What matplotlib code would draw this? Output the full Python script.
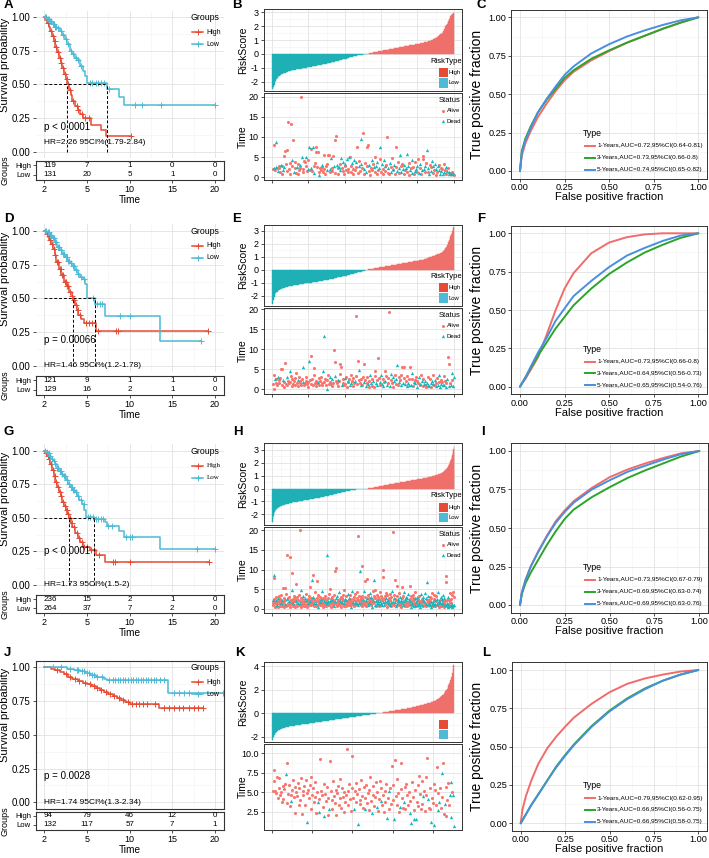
import numpy as np
import matplotlib
matplotlib.use("Agg")
import matplotlib.pyplot as plt
from matplotlib.lines import Line2D
from matplotlib.patches import Rectangle
from matplotlib.ticker import MultipleLocator, FixedLocator

plt.rcParams["font.family"] = ["Liberation Sans", "DejaVu Sans"]
plt.rcParams["axes.unicode_minus"] = False

W, H = 709, 858

C_HIGH = "#E64B35"
C_LOW = "#4DBBD5"
BAR_HIGH = "#EF6F6A"
BAR_LOW = "#1FB0B5"
PT_ALIVE = "#F8766D"
PT_DEAD = "#14B8BE"
ROC_COLS = ["#F26B6B", "#2AA52A", "#4A8FDE"]
GRID_MAJ = "#E2E2E2"
GRID_MIN = "#F1F1F1"

# ---------------- survival curves (step times / survival after step / censor times) ----------
KM_TICKS = [0, 5, 10, 15, 20]
KM_TICKLABELS = ["2", "5", "10", "15", "20"]

a_high_t = [0.1, 0.3, 0.5, 0.7, 0.9, 1.1, 1.3, 1.5, 1.7, 1.9, 2.1, 2.3, 2.5, 2.7, 2.9, 3.1, 3.3, 3.6, 3.9, 4.2, 4.5, 5.5, 6.7, 7.2]
a_high_s = [0.98, 0.96, 0.93, 0.90, 0.86, 0.82, 0.78, 0.74, 0.70, 0.66, 0.62, 0.58, 0.54, 0.50, 0.46, 0.42, 0.38, 0.34, 0.31, 0.28, 0.25, 0.20, 0.16, 0.12]
a_high_c = [0.4, 0.8, 1.0, 1.2, 1.4, 1.6, 1.8, 2.0, 2.2, 2.4, 2.6, 2.8, 3.0, 3.4, 3.8, 4.0, 4.4, 4.8, 5.2, 10.2]
a_low_t = [0.3, 0.6, 0.9, 1.2, 1.5, 1.8, 2.1, 2.4, 2.7, 3.0, 3.3, 3.6, 3.9, 4.2, 4.5, 4.8, 5.0, 7.3, 8.7, 9.3]
a_low_s = [0.99, 0.97, 0.95, 0.93, 0.92, 0.90, 0.87, 0.84, 0.80, 0.75, 0.73, 0.70, 0.68, 0.64, 0.60, 0.56, 0.51, 0.47, 0.41, 0.35]
a_low_c = [0.1, 0.2, 0.4, 0.5, 0.7, 0.8, 1.0, 1.1, 1.3, 1.4, 1.6, 1.9, 2.0, 2.2, 2.5, 2.8, 3.1, 3.4, 3.7, 4.0,
           4.3, 5.3, 5.6, 6.0, 6.3, 6.7, 7.0, 7.6, 10.6, 11.5, 13.7, 20.0]
a_n_high = [119, 7, 1, 0, 0]
a_n_low = [131, 20, 5, 1, 0]

d_high_t = [0.2, 0.4, 0.6, 0.8, 1.0, 1.2, 1.4, 1.7, 2.0, 2.3, 2.6, 2.9, 3.2, 3.4, 3.6, 3.8, 4.0, 4.3, 4.6, 6.1]
d_high_s = [0.98, 0.96, 0.93, 0.90, 0.87, 0.82, 0.77, 0.72, 0.67, 0.62, 0.59, 0.55, 0.52, 0.49, 0.45, 0.41, 0.38, 0.35, 0.32, 0.26]
d_high_c = [0.3, 0.5, 0.7, 0.9, 1.1, 1.3, 1.5, 1.6, 1.8, 1.9, 2.1, 2.2, 2.4, 2.5, 2.7, 2.8, 3.0, 3.3, 3.5, 3.7,
            3.9, 4.2, 4.9, 5.2, 5.6, 6.3, 8.4, 8.6, 19.2]
d_low_t = [0.3, 0.6, 0.9, 1.2, 1.5, 1.8, 2.1, 2.4, 2.7, 3.0, 3.3, 3.6, 3.9, 4.2, 4.5, 4.8, 5.0, 5.9, 7.1, 13.5]
d_low_s = [0.99, 0.97, 0.95, 0.92, 0.88, 0.86, 0.83, 0.81, 0.78, 0.76, 0.74, 0.71, 0.68, 0.66, 0.64, 0.61, 0.505, 0.46, 0.37, 0.18]
d_low_c = [0.1, 0.2, 0.4, 0.5, 0.7, 0.8, 1.0, 1.1, 1.3, 1.4, 1.6, 1.7, 1.9, 2.0, 2.2, 2.3, 2.5, 2.6, 2.8, 2.9,
           3.1, 3.4, 3.5, 3.7, 4.0, 4.3, 4.6, 5.7, 6.2, 6.5, 6.8, 8.9, 10.0, 18.4]
d_n_high = [121, 9, 1, 1, 0]
d_n_low = [129, 16, 2, 1, 0]

g_high_t = [0.1, 0.3, 0.5, 0.7, 0.9, 1.1, 1.3, 1.5, 1.7, 1.9, 2.1, 2.3, 2.5, 2.7, 2.9, 3.1, 3.3, 3.6, 3.9, 4.2, 4.5, 5.35, 6.1, 7.1]
g_high_s = [0.98, 0.96, 0.94, 0.90, 0.86, 0.81, 0.77, 0.73, 0.69, 0.66, 0.62, 0.59, 0.56, 0.53, 0.50, 0.46, 0.43, 0.39, 0.35, 0.32, 0.28, 0.26, 0.22, 0.17]
g_high_c = [0.2, 0.4, 0.6, 0.8, 1.0, 1.2, 1.4, 1.6, 1.8, 2.0, 2.2, 2.4, 2.6, 2.8, 3.0, 3.2, 3.5, 3.8, 4.1, 4.4,
            4.7, 5.0, 5.5, 5.8, 6.4, 8.0, 8.3, 10.0, 19.3]
g_low_t = [0.2, 0.4, 0.6, 0.8, 1.0, 1.2, 1.45, 1.7, 2.0, 2.2, 2.5, 2.8, 3.0, 3.3, 3.6, 3.8, 4.1, 4.4, 4.7, 4.9,
           5.86, 7.1, 7.3, 8.7, 9.3, 13.5]
g_low_s = [0.99, 0.98, 0.96, 0.94, 0.92, 0.90, 0.87, 0.85, 0.83, 0.81, 0.78, 0.75, 0.73, 0.71, 0.69, 0.66, 0.63, 0.60, 0.56, 0.51,
           0.495, 0.47, 0.44, 0.40, 0.36, 0.27]
g_low_c = [0.1, 0.3, 0.5, 0.7, 0.9, 1.1, 1.3, 1.5, 1.6, 1.8, 1.9, 2.1, 2.3, 2.4, 2.6, 2.7, 2.9, 3.1, 3.2, 3.4,
           3.5, 3.7, 3.9, 4.0, 4.3, 4.6, 5.1, 5.4, 5.7, 6.0, 6.3, 6.6, 6.9, 7.5, 7.9, 9.6, 10.0, 10.3, 17.9, 20.0]
g_n_high = [236, 15, 2, 1, 0]
g_n_low = [264, 37, 7, 2, 0]

j_high_t = [0.8, 1.3, 1.8, 2.3, 2.8, 3.3, 3.9, 4.5, 5.0, 5.5, 6.0, 6.5, 7.0, 7.5, 8.0, 8.5, 9.0, 9.5, 10.0, 13.4]
j_high_s = [0.99, 0.98, 0.965, 0.95, 0.93, 0.91, 0.90, 0.885, 0.875, 0.865, 0.85, 0.835, 0.815, 0.80, 0.785, 0.77, 0.755, 0.745, 0.73, 0.70]
j_high_c = [1.5, 2.5, 3.0, 3.6, 4.1, 4.8, 5.3, 5.8, 6.2, 6.7, 7.2, 7.7, 8.2, 8.7, 9.2, 9.8, 10.3, 10.7, 11.1, 11.6,
            12.0, 13.0, 14.0, 14.6, 15.2, 15.8, 16.3, 16.9, 17.5, 18.0, 18.6]
j_low_t = [2.6, 3.5, 4.2, 4.8, 5.4, 6.0, 6.5, 7.0, 7.3, 14.5]
j_low_s = [0.99, 0.98, 0.97, 0.955, 0.94, 0.93, 0.925, 0.915, 0.905, 0.81]
j_low_c = [1.0, 2.0, 3.0, 3.8, 4.0, 4.4, 4.6, 5.0, 5.2, 5.6, 5.8, 6.2, 6.8, 7.6, 8.0, 8.3, 8.6, 8.9, 9.2, 9.5,
           9.8, 10.1, 10.4, 10.7, 11.0, 11.3, 11.6, 11.9, 12.2, 12.5, 12.8, 13.1, 13.5, 14.0, 15.2, 15.8, 16.4, 17.0, 20.9]
j_n_high = [94, 79, 46, 12, 0]
j_n_low = [132, 117, 57, 7, 1]

# ---------------- risk score / survival time per patient ----------------
b_score_low = [
    -2.50, -2.38, -2.21, -2.05, -1.92, -1.83, -1.75, -1.68, -1.62, -1.57,
    -1.53, -1.49, -1.46, -1.43, -1.40, -1.38, -1.36, -1.34, -1.32, -1.30,
    -1.28, -1.26, -1.25, -1.23, -1.22, -1.20, -1.19, -1.18, -1.16, -1.15,
    -1.14, -1.13, -1.12, -1.11, -1.10, -1.09, -1.08, -1.07, -1.06, -1.05,
    -1.04, -1.03, -1.02, -1.01, -1.00, -0.99, -0.98, -0.97, -0.96, -0.95,
    -0.94, -0.93, -0.92, -0.91, -0.90, -0.89, -0.88, -0.87, -0.86, -0.85,
    -0.84, -0.83, -0.82, -0.81, -0.80, -0.79, -0.78, -0.77, -0.76, -0.75,
    -0.74, -0.73, -0.72, -0.71, -0.70, -0.68, -0.67, -0.66, -0.65, -0.64,
    -0.62, -0.61, -0.60, -0.58, -0.57, -0.56, -0.54, -0.53, -0.52, -0.50,
    -0.49, -0.47, -0.46, -0.45, -0.43, -0.42, -0.40, -0.39, -0.37, -0.36,
    -0.34, -0.33, -0.31, -0.30, -0.28, -0.27, -0.25, -0.24, -0.22, -0.21,
    -0.19, -0.18, -0.16, -0.15, -0.13, -0.12, -0.11, -0.10, -0.09, -0.08,
    -0.07, -0.07, -0.06, -0.05, -0.05, -0.04, -0.03, -0.03, -0.02, -0.01, -0.01]
b_score_high = [
    0.01, 0.02, 0.04, 0.05, 0.06, 0.08, 0.09, 0.10, 0.11, 0.13,
    0.14, 0.15, 0.16, 0.17, 0.18, 0.19, 0.20, 0.21, 0.22, 0.23,
    0.24, 0.25, 0.26, 0.27, 0.28, 0.29, 0.30, 0.31, 0.32, 0.33,
    0.34, 0.35, 0.36, 0.37, 0.38, 0.39, 0.40, 0.41, 0.42, 0.43,
    0.44, 0.45, 0.46, 0.47, 0.48, 0.49, 0.50, 0.51, 0.52, 0.53,
    0.54, 0.55, 0.56, 0.57, 0.58, 0.59, 0.60, 0.61, 0.62, 0.63,
    0.64, 0.65, 0.66, 0.67, 0.68, 0.69, 0.70, 0.71, 0.72, 0.73,
    0.74, 0.75, 0.76, 0.77, 0.78, 0.79, 0.80, 0.82, 0.83, 0.84,
    0.86, 0.87, 0.89, 0.90, 0.92, 0.94, 0.96, 0.98, 1.00, 1.03,
    1.06, 1.09, 1.12, 1.15, 1.18, 1.21, 1.25, 1.29, 1.33, 1.37,
    1.42, 1.47, 1.53, 1.60, 1.68, 1.77, 1.88, 1.98, 2.08, 2.18,
    2.28, 2.40, 2.52, 2.61, 2.70, 2.78, 2.85, 2.91, 2.95]
b_time = [
    2.1, 7.9, 2.4, 1.8, 2.6, 8.8, 2.2, 1.5, 2.9, 2.3,
    1.2, 3.1, 2.8, 0.7, 1.9, 5.3, 2.5, 6.6, 3.4, 6.8,
    1.6, 13.8, 2.0, 0.9, 3.6, 13.2, 4.4, 2.7, 9.2, 1.4,
    2.2, 3.9, 1.1, 2.6, 3.3, 0.8, 1.7, 3.0, 2.4, 20.0,
    5.0, 2.1, 1.3, 4.1, 3.7, 2.9, 5.1, 1.6, 4.2, 2.0,
    7.4, 1.9, 2.3, 6.9, 1.5, 7.6, 2.8, 1.0, 3.5, 6.2,
    7.4, 2.5, 6.4, 1.2, 0.6, 2.2, 1.8, 3.1, 2.6, 1.4,
    5.5, 2.0, 0.9, 2.7, 1.7, 3.2, 5.6, 5.5, 2.1, 1.3,
    4.8, 2.4, 1.6, 5.3, 2.9, 9.3, 1.1, 10.3, 3.0, 2.2,
    0.8, 2.6, 3.4, 1.9, 4.9, 2.3, 1.5, 3.8, 0.9, 2.7,
    3.3, 1.7, 4.5, 2.0, 1.2, 5.0, 5.1, 2.8, 1.4, 3.6,
    2.1, 0.7, 4.3, 1.8, 3.9, 2.5, 7.6, 1.0, 2.9, 4.0,
    1.6, 3.2, 9.4, 2.4, 10.9, 0.9, 2.0, 3.5, 1.3, 7.4,
    2.7, 8.0, 1.5, 3.0, 0.6, 2.2, 4.3, 1.8, 3.4, 2.6,
    1.2, 5.1, 2.9, 0.8, 3.7, 1.9, 2.4, 4.6, 7.4, 1.4,
    3.3, 2.0, 0.9, 4.4, 1.6, 2.8, 3.1, 10.1, 1.1, 2.3,
    0.7, 3.6, 2.5, 1.3, 4.8, 2.1, 1.8, 3.0, 0.9, 2.6,
    7.4, 1.5, 3.9, 2.2, 1.0, 5.6, 2.7, 1.4, 3.3, 2.0,
    0.8, 3.1, 1.7, 2.4, 5.8, 1.2, 2.9, 0.6, 3.5, 1.9,
    2.3, 1.0, 4.2, 2.6, 0.7, 1.5, 3.7, 2.1, 1.3, 2.8,
    4.5, 1.1, 2.4, 3.2, 0.9, 1.8, 4.6, 5.4, 2.0, 1.4,
    2.7, 3.6, 6.8, 1.2, 2.2, 0.8, 3.0, 1.6, 2.5, 4.0,
    1.0, 2.9, 1.7, 3.4, 0.6, 2.1, 1.3, 2.8, 1.9, 3.1,
    0.9, 2.4, 1.5, 2.0, 0.7, 3.3, 1.2, 1.8, 2.6, 0.8,
    1.6, 2.2, 0.9, 1.4, 1.1, 0.7, 1.3, 0.8, 1.0, 0.6]
b_status = (
    "AADADDADAA" "ADAADADAAA" "AAAAAADAAD" "AAADAAADAA" "DAAAAADAAD"
    "DADAADADAA" "AAAADAADAA" "AAAADAAADA" "DAAADAAADA" "ADADDAADAA"
    "DADAADAAAD" "AADADAAADA" "ADDAAADADA" "AAADAADAAD" "AADADADADA"
    "DAADADAAAD" "ADADADADAA" "ADADADADAD" "ADADDADAAD" "ADDAADADAD"
    "ADADADAADA" "DADADDADAD" "ADADADADDA" "DADADADADA" "DADDADADDA")

e_score_low = [
    -2.62, -2.30, -2.05, -1.90, -1.80, -1.72, -1.66, -1.61, -1.57, -1.53,
    -1.50, -1.47, -1.44, -1.42, -1.40, -1.38, -1.36, -1.34, -1.33, -1.31,
    -1.30, -1.28, -1.27, -1.25, -1.24, -1.23, -1.21, -1.20, -1.19, -1.18,
    -1.17, -1.16, -1.15, -1.14, -1.13, -1.12, -1.11, -1.10, -1.09, -1.08,
    -1.07, -1.06, -1.06, -1.05, -1.04, -1.03, -1.02, -1.02, -1.01, -1.00,
    -0.99, -0.99, -0.98, -0.97, -0.97, -0.96, -0.95, -0.94, -0.93, -0.92,
    -0.91, -0.90, -0.89, -0.88, -0.87, -0.86, -0.85, -0.84, -0.83, -0.82,
    -0.81, -0.80, -0.79, -0.78, -0.77, -0.76, -0.75, -0.74, -0.73, -0.72,
    -0.70, -0.69, -0.67, -0.66, -0.64, -0.63, -0.61, -0.60, -0.58, -0.57,
    -0.55, -0.54, -0.53, -0.52, -0.51, -0.50, -0.49, -0.48, -0.47, -0.46,
    -0.45, -0.43, -0.42, -0.40, -0.39, -0.37, -0.36, -0.34, -0.33, -0.31,
    -0.30, -0.28, -0.27, -0.25, -0.24, -0.22, -0.21, -0.19, -0.18, -0.16,
    -0.15, -0.13, -0.12, -0.10, -0.09, -0.07, -0.05, -0.03, -0.01]
e_score_high = [
    0.01, 0.02, 0.03, 0.04, 0.05, 0.06, 0.07, 0.08, 0.09, 0.10,
    0.11, 0.12, 0.13, 0.14, 0.15, 0.16, 0.17, 0.18, 0.19, 0.20,
    0.21, 0.22, 0.23, 0.24, 0.25, 0.26, 0.27, 0.28, 0.29, 0.30,
    0.31, 0.32, 0.33, 0.34, 0.35, 0.36, 0.37, 0.38, 0.39, 0.40,
    0.41, 0.42, 0.43, 0.44, 0.45, 0.46, 0.47, 0.48, 0.49, 0.50,
    0.51, 0.52, 0.53, 0.54, 0.55, 0.56, 0.57, 0.58, 0.59, 0.60,
    0.61, 0.62, 0.63, 0.64, 0.65, 0.66, 0.67, 0.68, 0.69, 0.70,
    0.71, 0.72, 0.73, 0.74, 0.75, 0.76, 0.77, 0.79, 0.80, 0.82,
    0.83, 0.85, 0.87, 0.89, 0.91, 0.93, 0.95, 0.97, 0.99, 1.01,
    1.03, 1.05, 1.07, 1.09, 1.11, 1.13, 1.15, 1.17, 1.19, 1.21,
    1.23, 1.26, 1.29, 1.33, 1.37, 1.42, 1.48, 1.55, 1.62, 1.70,
    1.79, 1.90, 2.02, 2.15, 2.30, 2.46, 2.62, 2.80, 2.98, 3.15, 3.30]
e_time = [
    1.2, 3.5, 0.1, 2.6, 1.4, 2.4, 1.0, 3.0, 2.2, 1.6,
    2.8, 5.0, 5.0, 1.1, 2.3, 0.6, 1.8, 6.6, 1.3, 2.9,
    0.9, 2.0, 1.5, 4.6, 1.7, 3.2, 0.8, 2.5, 1.2, 1.9,
    2.7, 1.0, 4.1, 1.6, 2.2, 0.7, 3.1, 1.4, 2.0, 1.1,
    2.4, 1.8, 5.6, 0.9, 1.5, 2.9, 2.1, 1.2, 0.6, 1.7,
    7.0, 2.3, 8.3, 1.3, 2.6, 1.0, 3.4, 5.2, 1.6, 0.8,
    2.0, 1.4, 1.8, 2.7, 0.9, 1.9, 3.0, 1.1, 1.5, 4.4,
    1.7, 13.4, 2.4, 1.0, 0.1, 2.2, 3.6, 1.3, 1.8, 2.9,
    1.2, 2.5, 0.8, 1.6, 9.8, 3.3, 6.9, 2.0, 1.4, 0.7,
    2.3, 1.9, 3.7, 6.3, 5.6, 1.1, 2.6, 1.5, 0.9, 2.8,
    1.3, 3.1, 0.6, 2.1, 1.7, 2.4, 1.0, 3.5, 1.6, 2.0,
    0.8, 2.7, 1.4, 1.9, 3.2, 18.4, 1.2, 7.1, 4.8, 2.2,
    1.5, 0.9, 2.5, 1.1, 3.0, 1.8, 6.2, 2.3, 0.7, 1.6,
    2.9, 1.2, 0.5, 2.1, 3.6, 1.4, 0.8, 2.6, 1.9, 0.6,
    3.3, 4.5, 1.5, 2.2, 1.0, 7.9, 2.8, 1.7, 0.9, 3.5,
    1.3, 2.4, 0.7, 1.8, 4.5, 2.0, 3.2, 1.1, 1.6, 2.7,
    19.2, 0.8, 2.3, 3.8, 1.4, 2.9, 0.6, 1.9, 3.4, 1.2,
    2.5, 6.0, 1.0, 3.0, 1.7, 2.2, 0.9, 3.6, 5.6, 1.5,
    2.8, 5.4, 1.3, 2.0, 0.7, 3.3, 1.6, 2.4, 0.9, 5.6,
    1.1, 2.6, 3.9, 0.8, 1.8, 2.2, 1.4, 3.1, 0.6, 2.0,
    1.5, 2.9, 0.9, 1.2, 3.5, 1.9, 0.7, 2.4, 1.3, 1.0,
    2.1, 0.5, 1.6, 3.0, 1.1, 0.8, 2.6, 1.4, 0.6, 1.9,
    3.4, 1.2, 0.9, 2.2, 1.5, 0.7, 2.8, 1.0, 3.5, 1.7,
    0.6, 2.3, 1.3, 1.8, 0.9, 3.2, 1.1, 2.0, 0.5, 1.4,
    2.5, 8.1, 6.4, 0.8, 1.6, 1.0, 2.2, 3.9, 0.7, 3.0]
e_status = (
    "AAADAAADAA" "AAAADAAAAD" "AAADAAAAAA" "AAAADAAAAA" "ADDAAAAAAA"
    "DAAAAAAAAA" "AADAAAAAAD" "ADAADAAAAD" "ADAAADAAAA" "DAAAADAAAD"
    "AAADAADADA" "AAADAAAADA" "ADAAADAADA" "ADAADDAADA" "AADADAADAD"
    "DADAADADAA" "ADADADADAA" "DDAADADAAD" "AADADADADA" "DADADADADA"
    "ADADADAADA" "DADADDADAD" "ADADADADDA" "DADADADADA" "DAADADADDD")

h_score_low = [
    -2.60, -2.35, -2.15, -2.00, -1.90, -1.82, -1.76, -1.71, -1.67, -1.63,
    -1.60, -1.57, -1.54, -1.52, -1.50, -1.48, -1.46, -1.44, -1.42, -1.41,
    -1.39, -1.38, -1.36, -1.35, -1.34, -1.33, -1.32, -1.31, -1.30, -1.29,
    -1.28, -1.27, -1.26, -1.25, -1.24, -1.23, -1.22, -1.21, -1.20, -1.19,
    -1.18, -1.18, -1.17, -1.16, -1.16, -1.15, -1.14, -1.14, -1.13, -1.12,
    -1.12, -1.11, -1.10, -1.10, -1.09, -1.08, -1.08, -1.07, -1.07, -1.06,
    -1.05, -1.05, -1.04, -1.04, -1.03, -1.03, -1.02, -1.02, -1.01, -1.00,
    -1.00, -0.99, -0.99, -0.98, -0.98, -0.97, -0.97, -0.96, -0.96, -0.95,
    -0.95, -0.94, -0.94, -0.93, -0.93, -0.92, -0.92, -0.91, -0.91, -0.90,
    -0.90, -0.89, -0.89, -0.88, -0.88, -0.87, -0.87, -0.86, -0.86, -0.85,
    -0.85, -0.84, -0.84, -0.83, -0.83, -0.82, -0.82, -0.81, -0.81, -0.80,
    -0.80, -0.79, -0.79, -0.78, -0.78, -0.77, -0.77, -0.76, -0.76, -0.75,
    -0.75, -0.74, -0.74, -0.73, -0.73, -0.72, -0.72, -0.71, -0.71, -0.70,
    -0.70, -0.69, -0.68, -0.68, -0.67, -0.66, -0.66, -0.65, -0.64, -0.64,
    -0.63, -0.62, -0.62, -0.61, -0.60, -0.60, -0.59, -0.58, -0.58, -0.57,
    -0.56, -0.56, -0.55, -0.54, -0.54, -0.53, -0.52, -0.52, -0.51, -0.50,
    -0.50, -0.49, -0.48, -0.48, -0.47, -0.46, -0.46, -0.45, -0.44, -0.44,
    -0.43, -0.42, -0.42, -0.41, -0.40, -0.40, -0.39, -0.38, -0.38, -0.37,
    -0.36, -0.36, -0.35, -0.34, -0.34, -0.33, -0.32, -0.32, -0.31, -0.30,
    -0.30, -0.29, -0.28, -0.28, -0.27, -0.26, -0.26, -0.25, -0.24, -0.24,
    -0.23, -0.22, -0.22, -0.21, -0.20, -0.20, -0.19, -0.18, -0.18, -0.17,
    -0.16, -0.16, -0.15, -0.15, -0.14, -0.14, -0.13, -0.13, -0.12, -0.12,
    -0.11, -0.11, -0.10, -0.10, -0.09, -0.09, -0.08, -0.08, -0.08, -0.07,
    -0.07, -0.07, -0.06, -0.06, -0.06, -0.05, -0.05, -0.05, -0.04, -0.04,
    -0.04, -0.04, -0.03, -0.03, -0.03, -0.03, -0.02, -0.02, -0.02, -0.02,
    -0.02, -0.02, -0.01, -0.01, -0.01, -0.01, -0.01, -0.01, -0.01, -0.01,
    -0.01, -0.01, -0.01, -0.01]
h_score_high = [
    0.01, 0.01, 0.02, 0.02, 0.03, 0.03, 0.04, 0.04, 0.05, 0.05,
    0.06, 0.06, 0.07, 0.08, 0.08, 0.09, 0.09, 0.10, 0.11, 0.11,
    0.12, 0.12, 0.13, 0.14, 0.14, 0.15, 0.15, 0.16, 0.17, 0.17,
    0.18, 0.19, 0.19, 0.20, 0.20, 0.21, 0.22, 0.22, 0.23, 0.23,
    0.24, 0.24, 0.25, 0.25, 0.26, 0.26, 0.27, 0.27, 0.28, 0.28,
    0.29, 0.29, 0.30, 0.30, 0.31, 0.31, 0.32, 0.32, 0.33, 0.33,
    0.34, 0.34, 0.35, 0.35, 0.36, 0.36, 0.37, 0.37, 0.38, 0.38,
    0.39, 0.39, 0.40, 0.40, 0.41, 0.41, 0.42, 0.42, 0.43, 0.43,
    0.44, 0.44, 0.45, 0.45, 0.46, 0.46, 0.47, 0.47, 0.48, 0.48,
    0.49, 0.49, 0.50, 0.50, 0.51, 0.51, 0.52, 0.52, 0.53, 0.53,
    0.54, 0.54, 0.55, 0.55, 0.56, 0.56, 0.57, 0.57, 0.58, 0.58,
    0.59, 0.59, 0.60, 0.60, 0.61, 0.61, 0.62, 0.62, 0.63, 0.63,
    0.64, 0.64, 0.65, 0.65, 0.66, 0.66, 0.67, 0.67, 0.68, 0.68,
    0.69, 0.69, 0.70, 0.70, 0.71, 0.71, 0.72, 0.72, 0.73, 0.73,
    0.74, 0.74, 0.75, 0.75, 0.76, 0.76, 0.77, 0.77, 0.78, 0.79,
    0.79, 0.80, 0.80, 0.81, 0.81, 0.82, 0.83, 0.83, 0.84, 0.84,
    0.85, 0.86, 0.86, 0.87, 0.87, 0.88, 0.89, 0.89, 0.90, 0.91,
    0.91, 0.92, 0.93, 0.93, 0.94, 0.95, 0.96, 0.96, 0.97, 0.98,
    0.99, 1.00, 1.00, 1.01, 1.02, 1.03, 1.04, 1.05, 1.06, 1.07,
    1.08, 1.09, 1.10, 1.11, 1.12, 1.13, 1.14, 1.16, 1.17, 1.18,
    1.20, 1.21, 1.23, 1.24, 1.26, 1.28, 1.30, 1.32, 1.34, 1.36,
    1.38, 1.41, 1.44, 1.47, 1.50, 1.53, 1.57, 1.61, 1.65, 1.70,
    1.75, 1.80, 1.86, 1.92, 1.99, 2.06, 2.14, 2.22, 2.31, 2.41,
    2.52, 2.64, 2.78, 2.93, 3.10, 3.30]
h_time = [
    1.5, 2.2, 1.0, 7.8, 2.6, 8.6, 1.8, 0.6, 2.4, 1.3,
    3.0, 1.7, 0.9, 2.1, 1.4, 2.8, 0.5, 1.9, 3.3, 1.2,
    2.5, 0.8, 1.6, 2.0, 3.6, 1.1, 0.7, 2.3, 1.5, 5.2,
    1.9, 2.7, 0.6, 5.2, 1.3, 2.2, 3.9, 1.0, 0.8, 2.5,
    13.7, 1.6, 2.9, 0.9, 2.0, 1.4, 3.1, 13.1, 1.7, 0.5,
    2.3, 1.2, 4.8, 9.2, 1.8, 2.6, 0.7, 1.5, 3.4, 2.1,
    1.0, 2.8, 0.6, 1.9, 6.3, 2.4, 1.3, 3.0, 0.8, 1.6,
    2.2, 1.1, 3.5, 0.9, 2.0, 20.0, 1.4, 2.7, 0.5, 4.8,
    1.7, 2.5, 1.0, 3.2, 1.5, 0.7, 2.1, 1.3, 2.9, 0.8,
    1.8, 2.4, 3.8, 1.1, 0.6, 2.0, 1.6, 2.6, 1.2, 3.3,
    0.9, 2.2, 1.4, 1.9, 5.5, 2.8, 1.0, 7.3, 1.7, 2.3,
    8.6, 1.2, 3.0, 0.7, 2.5, 1.5, 1.9, 4.2, 2.1, 0.8,
    1.6, 7.2, 2.7, 1.1, 3.6, 0.5, 2.0, 1.4, 2.4, 1.8,
    3.1, 1.0, 2.6, 0.9, 1.7, 2.2, 4.5, 1.3, 0.6, 2.9,
    1.5, 2.0, 0.8, 3.4, 1.2, 2.5, 1.8, 0.7, 2.3, 1.6,
    13.7, 1.1, 2.8, 1.9, 0.9, 3.7, 1.4, 2.1, 5.0, 1.7,
    2.6, 0.6, 1.3, 2.2, 3.0, 1.0, 1.8, 2.4, 0.8, 3.5,
    1.5, 9.7, 2.0, 1.2, 10.3, 2.7, 0.7, 1.6, 3.2, 2.3,
    1.0, 1.9, 4.4, 0.9, 2.5, 1.4, 2.1, 3.1, 1.7, 0.6,
    2.8, 1.3, 1.8, 3.6, 2.2, 0.8, 1.5, 4.8, 1.1, 2.6,
    1.9, 3.3, 0.7, 2.4, 1.6, 2.0, 1.2, 3.9, 0.9, 2.2,
    1.4, 2.9, 1.0, 2.5, 3.6, 1.7, 0.6, 2.1, 1.3, 4.5,
    2.6, 1.1, 1.8, 3.0, 0.8, 2.3, 1.5, 3.8, 1.0, 2.0,
    1.6, 2.7, 4.2, 1.2, 2.4, 0.9, 18.5, 3.4, 1.9, 1.4,
    2.2, 9.5, 1.0, 2.8, 1.7, 10.9, 3.2, 0.7, 2.5, 1.3,
    2.0, 4.6, 1.5, 3.0, 7.1, 1.1, 2.4, 0.8, 1.8, 7.6,
    2.7, 1.4, 3.5, 0.9, 2.1, 1.6, 2.9, 1.2, 4.0, 2.3,
    1.0, 3.1, 1.8, 2.5, 0.6, 4.6, 1.4, 2.2, 3.3, 7.3,
    1.7, 2.8, 1.1, 4.7, 2.0, 0.8, 3.6, 1.5, 2.4, 1.2,
    3.0, 1.9, 0.7, 2.6, 1.3, 4.4, 2.1, 1.0, 3.4, 1.6,
    2.3, 1.1, 2.9, 10.0, 1.7, 8.2, 2.5, 0.9, 3.2, 1.4,
    2.0, 4.1, 1.2, 2.7, 0.6, 1.9, 3.5, 1.5, 2.2, 1.0,
    2.8, 1.6, 3.9, 1.1, 2.4, 0.8, 1.8, 3.1, 4.6, 1.3,
    19.4, 2.1, 1.4, 2.9, 1.0, 3.6, 7.3, 1.7, 2.5, 0.7,
    2.2, 5.8, 1.2, 3.3, 1.9, 0.9, 2.6, 1.5, 4.0, 2.0,
    1.1, 3.0, 1.7, 2.4, 0.6, 5.6, 1.4, 2.8, 1.0, 3.4,
    2.1, 1.3, 4.4, 0.8, 2.6, 1.8, 3.1, 1.2, 2.2, 0.7,
    1.6, 2.9, 1.0, 3.7, 1.4, 2.3, 0.9, 5.8, 1.9, 2.5,
    1.2, 3.2, 0.6, 2.0, 1.6, 2.7, 1.1, 3.5, 0.8, 2.2,
    1.5, 2.8, 1.0, 4.2, 1.8, 0.7, 2.4, 1.3, 3.0, 2.0,
    0.9, 2.5, 1.4, 3.4, 1.1, 2.1, 0.6, 1.7, 3.8, 1.2,
    2.6, 1.0, 1.9, 2.3, 0.8, 3.1, 1.5, 2.0, 1.2, 4.0,
    1.6, 2.7, 0.7, 1.3, 2.2, 6.9, 1.0, 3.3, 1.8, 0.9,
    2.4, 1.4, 3.0, 1.1, 2.0, 0.6, 2.8, 1.7, 4.1, 1.2,
    2.1, 0.8, 1.5, 3.6, 1.0, 2.5, 1.3, 0.7, 2.2, 1.9,
    3.2, 1.2, 0.9, 2.6, 1.6, 4.3, 1.0, 2.1, 0.6, 1.4,
    2.3, 1.8, 0.8, 3.0, 1.1, 2.5, 0.7, 1.5, 2.0, 3.6,
    1.2, 0.6, 2.7, 1.4, 0.9, 1.9, 8.4, 6.9, 1.0, 2.4,
    1.6, 0.8, 3.1, 1.3, 0.5, 2.2, 1.1, 4.0, 0.7, 1.8,
    2.6, 0.9, 1.4, 0.6, 3.5, 1.2, 0.8, 4.4, 1.0, 3.1]
h_status = (
    "ADAAADAADA" "AADAADAAAA" "AADAAAADAA" "AAAADAAAAD" "AAAADAAAAA"
    "AADAAAADAA" "AAADAAAAAD" "AAAAAADAAD" "AAADAAAADA" "ADAAAADAAA"
    "AAADAAADAA" "AADAADAAAA" "DAAAADAAAD" "AADAAADAAA" "ADAAAADAAD"
    "DAADAAADAA" "AAADAAAADA" "AADAADAADA" "AADAAADAAA" "AADAAADAAD"
    "AAADAAADAA" "ADAAAADAAD" "AADAAADAAA" "DAAAADAAAD" "ADAADAAADA"
    "ADAAAADAAA" "DAADADAADA" "ADAADAADAD" "AADADAADAD" "ADAADADAAD"
    "ADAADAADAA" "DAADADAADA" "ADADAADADA" "ADADAAADAD" "AADADADAAD"
    "ADADAADADA" "DADADADADA" "ADADADAADA" "DADADADADA" "ADDADADADA"
    "DADADADADA" "ADADADADAD" "ADADADADAD" "ADADADADAD" "DADADADADA"
    "ADADADADAD" "ADADADADAD" "DADADAAADA" "DADADADADA" "ADADADAADA")

k_score_low = [
    -2.30, -2.05, -1.85, -1.72, -1.63, -1.56, -1.50, -1.45, -1.41, -1.37,
    -1.34, -1.31, -1.28, -1.26, -1.24, -1.22, -1.20, -1.18, -1.16, -1.15,
    -1.13, -1.12, -1.10, -1.09, -1.08, -1.07, -1.06, -1.05, -1.04, -1.03,
    -1.02, -1.01, -1.00, -0.99, -0.98, -0.97, -0.96, -0.95, -0.94, -0.93,
    -0.92, -0.91, -0.90, -0.89, -0.88, -0.87, -0.86, -0.85, -0.84, -0.83,
    -0.82, -0.81, -0.80, -0.79, -0.78, -0.77, -0.76, -0.75, -0.74, -0.73,
    -0.72, -0.71, -0.70, -0.69, -0.68, -0.67, -0.66, -0.65, -0.64, -0.63,
    -0.62, -0.61, -0.60, -0.59, -0.58, -0.57, -0.56, -0.55, -0.54, -0.53,
    -0.52, -0.51, -0.50, -0.49, -0.48, -0.47, -0.46, -0.45, -0.44, -0.43,
    -0.42, -0.41, -0.40, -0.39, -0.38, -0.37, -0.36, -0.35, -0.34, -0.33,
    -0.32, -0.31, -0.30, -0.29, -0.28, -0.27, -0.26, -0.25, -0.24, -0.23,
    -0.22, -0.21, -0.20, -0.19, -0.18, -0.17, -0.16, -0.15, -0.14, -0.13,
    -0.12, -0.11, -0.10, -0.09, -0.08, -0.07, -0.06, -0.05, -0.04, -0.03, -0.02, -0.01]
k_score_high = [
    0.01, 0.02, 0.03, 0.04, 0.05, 0.06, 0.07, 0.08, 0.09, 0.10,
    0.11, 0.12, 0.13, 0.14, 0.15, 0.16, 0.18, 0.19, 0.20, 0.21,
    0.22, 0.23, 0.24, 0.26, 0.27, 0.28, 0.29, 0.30, 0.32, 0.33,
    0.34, 0.35, 0.36, 0.38, 0.39, 0.40, 0.42, 0.43, 0.44, 0.46,
    0.47, 0.49, 0.50, 0.52, 0.53, 0.55, 0.57, 0.58, 0.60, 0.62,
    0.63, 0.65, 0.67, 0.69, 0.70, 0.72, 0.74, 0.76, 0.78, 0.80,
    0.82, 0.84, 0.86, 0.88, 0.90, 0.92, 0.95, 0.98, 1.01, 1.04,
    1.07, 1.10, 1.14, 1.18, 1.22, 1.27, 1.32, 1.37, 1.43, 1.50,
    1.57, 1.65, 1.74, 1.84, 1.95, 2.07, 2.20, 2.35, 2.55, 2.80,
    3.10, 3.40, 3.75, 4.10]
k_time = [
    5.1, 6.5, 7.9, 5.2, 4.9, 7.0, 4.3, 5.5, 6.8, 4.6,
    5.0, 3.7, 5.8, 4.1, 5.4, 6.0, 7.3, 8.8, 3.6, 4.8,
    5.9, 3.2, 4.7, 3.9, 5.3, 6.6, 4.4, 2.3, 5.7, 5.0,
    4.5, 6.2, 3.4, 5.6, 4.0, 6.8, 2.2, 5.1, 4.6, 5.8,
    3.3, 6.6, 4.9, 1.2, 5.3, 4.2, 5.9, 2.8, 6.9, 4.7,
    5.5, 3.8, 6.3, 4.4, 2.3, 5.0, 3.7, 2.4, 4.1, 9.3,
    5.2, 4.6, 3.1, 6.1, 2.0, 4.8, 3.9, 5.7, 2.1, 4.3,
    2.8, 9.0, 5.1, 4.0, 2.9, 6.4, 4.5, 3.6, 5.3, 2.1,
    4.9, 5.8, 3.4, 4.2, 6.7, 3.0, 5.5, 4.4, 2.4, 5.0,
    3.8, 4.6, 10.6, 5.2, 3.3, 6.0, 4.1, 2.6, 5.6, 9.6,
    4.3, 2.9, 5.1, 3.7, 6.2, 4.8, 0.9, 5.4, 3.5, 4.0,
    6.6, 4.5, 3.0, 5.7, 2.9, 4.2, 5.9, 3.6, 4.9, 2.7,
    5.3, 6.9, 3.9, 2.3, 4.6, 5.8, 3.2, 4.4, 6.3, 3.1,
    5.0, 2.6, 4.1, 6.4, 3.9, 5.5, 3.4, 4.7, 2.4, 5.2,
    3.7, 6.0, 1.7, 4.3, 5.1, 2.8, 5.6, 3.5, 8.4, 4.0,
    5.9, 1.6, 9.2, 4.5, 3.3, 6.7, 4.9, 2.5, 3.1, 5.4,
    8.7, 4.2, 3.0, 3.7, 5.7, 2.9, 6.1, 4.6, 3.4, 5.0,
    3.9, 2.3, 1.0, 6.3, 4.4, 2.7, 1.6, 5.3, 1.6, 3.8,
    5.9, 3.2, 7.1, 4.8, 2.9, 6.5, 3.5, 4.5, 5.2, 2.6,
    4.7, 6.9, 9.4, 4.1, 3.0, 5.6, 2.8, 1.2, 4.2, 3.6,
    6.0, 0.8, 5.3, 3.4, 8.3, 4.9, 2.7, 3.7, 5.5, 3.0,
    4.4, 7.5, 8.8, 2.2, 3.5, 5.7, 1.9, 4.0, 6.2, 3.3,
    4.6, 6.3, 1.8, 5.0, 4.7, 0.7]
k_status = (
    "AAAAAAAAAA" "AAAAAADAAA" "AAADAAAAAA" "AAAAAAAAAA" "AAADAAAAAA"
    "AAAAAADDAA" "AAAADAAAAA" "DAAAAAAAAA" "AAAAAAAAAA" "AAAAAAAAAA"
    "ADAAAADAAA" "AAAADAAAAA" "AAADAAAAAD" "AAAADAAAAA" "AADADAAAAA"
    "ADAAAAAADA" "AAADAAAAAA" "ADDAAADADA" "AAAAAAADAA" "AAADAAADAA"
    "ADAAAADDAA" "ADAADAAAAA" "DDDADD")

# ---------------- ROC curves ----------------
ROC_TICKS = [0, 0.25, 0.5, 0.75, 1.0]
ROC_TICKLABELS = ["0.00", "0.25", "0.50", "0.75", "1.00"]
roc_fpr = [0, 0.01, 0.03, 0.06, 0.1, 0.15, 0.2, 0.25, 0.3, 0.4, 0.5, 0.6, 0.7, 0.8, 0.9, 1.0]

c_tpr_1y = [0, 0.10, 0.18, 0.26, 0.35, 0.44, 0.52, 0.59, 0.645, 0.72, 0.78, 0.835, 0.88, 0.925, 0.965, 1.0]
c_tpr_3y = [0, 0.13, 0.21, 0.29, 0.38, 0.465, 0.535, 0.605, 0.655, 0.73, 0.785, 0.835, 0.88, 0.925, 0.965, 1.0]
c_tpr_5y = [0, 0.12, 0.20, 0.28, 0.38, 0.47, 0.55, 0.625, 0.68, 0.765, 0.825, 0.875, 0.915, 0.95, 0.98, 1.0]
c_labels = ["1-Years,AUC=0.72,95%CI(0.64-0.81)", "3-Years,AUC=0.73,95%CI(0.66-0.8)",
            "5-Years,AUC=0.74,95%CI(0.65-0.82)"]

f_tpr_1y = [0, 0.02, 0.05, 0.11, 0.19, 0.34, 0.50, 0.64, 0.74, 0.87, 0.94, 0.975, 0.993, 1.0, 1.0, 1.0]
f_tpr_3y = [0, 0.02, 0.06, 0.12, 0.20, 0.29, 0.38, 0.455, 0.53, 0.64, 0.735, 0.81, 0.875, 0.925, 0.97, 1.0]
f_tpr_5y = [0, 0.02, 0.06, 0.13, 0.22, 0.32, 0.43, 0.51, 0.59, 0.69, 0.78, 0.855, 0.905, 0.95, 0.985, 1.0]
f_labels = ["1-Years,AUC=0.73,95%CI(0.66-0.8)", "3-Years,AUC=0.64,95%CI(0.56-0.73)",
            "5-Years,AUC=0.65,95%CI(0.54-0.76)"]

i_tpr_1y = [0, 0.08, 0.16, 0.25, 0.345, 0.45, 0.545, 0.615, 0.675, 0.76, 0.83, 0.88, 0.92, 0.955, 0.985, 1.0]
i_tpr_3y = [0, 0.07, 0.14, 0.21, 0.29, 0.39, 0.48, 0.56, 0.62, 0.70, 0.765, 0.825, 0.875, 0.92, 0.965, 1.0]
i_tpr_5y = [0, 0.08, 0.16, 0.25, 0.34, 0.445, 0.535, 0.605, 0.665, 0.75, 0.81, 0.865, 0.905, 0.945, 0.98, 1.0]
i_labels = ["1-Years,AUC=0.73,95%CI(0.67-0.79)", "3-Years,AUC=0.69,95%CI(0.63-0.74)",
            "5-Years,AUC=0.69,95%CI(0.63-0.76)"]

l_tpr_1y = [0, 0.09, 0.18, 0.28, 0.39, 0.49, 0.565, 0.63, 0.69, 0.78, 0.855, 0.91, 0.945, 0.97, 0.99, 1.0]
l_tpr_3y = [0, 0.02, 0.06, 0.12, 0.19, 0.28, 0.37, 0.445, 0.515, 0.635, 0.735, 0.815, 0.88, 0.93, 0.97, 1.0]
l_tpr_5y = [0, 0.02, 0.06, 0.12, 0.19, 0.28, 0.365, 0.44, 0.51, 0.63, 0.73, 0.81, 0.875, 0.93, 0.97, 1.0]
l_labels = ["1-Years,AUC=0.79,95%CI(0.62-0.95)", "3-Years,AUC=0.66,95%CI(0.56-0.75)",
            "5-Years,AUC=0.66,95%CI(0.58-0.75)"]

# ---------------- helpers (pixel layout) ----------------
fig = plt.figure(figsize=(W / 100, H / 100), dpi=100)


def add_ax(l, t, r, b):
    return fig.add_axes([l / W, 1 - b / H, (r - l) / W, (b - t) / H])


def ftext(x, y, s, **kw):
    fig.text(x / W, 1 - y / H, s, **kw)


def fline(x0, x1, y, **kw):
    fig.add_artist(Line2D([x0 / W, x1 / W], [1 - y / H, 1 - y / H], **kw))


def fmark(x, y, **kw):
    fig.add_artist(Line2D([x / W], [1 - y / H], ls="none", **kw))


def frect(x0, y0, x1, y1, color):
    fig.add_artist(Rectangle((x0 / W, 1 - y1 / H), (x1 - x0) / W, (y1 - y0) / H,
                             facecolor=color, edgecolor="none"))


def letter(x, y, s):
    ftext(x, y, s, fontsize=9.5, fontweight="bold", ha="left", va="center")


def km_panel(lab, lx, ly, y1, y0, tb_top, tb_bot, high, low, n_high, n_low,
             p_text, p_y, hr_text, hr_y, boxed=False, leg_family=None):
    unit = y0 - y1
    ax = add_ax(35.8, y1 - 0.05 * unit, 223.5, y0 + 0.05 * unit)
    ax.set_xlim(-1, 21)
    ax.set_ylim(-0.05, 1.05)
    ax.set_xticks(KM_TICKS)
    ax.tick_params(axis="x", length=0, labelbottom=False)
    ax.set_yticks([0, 0.25, 0.5, 0.75, 1.0])
    ax.set_yticklabels(["0.00", "0.25", "0.50", "0.75", "1.00"])
    ax.xaxis.set_minor_locator(MultipleLocator(2.5))
    ax.yaxis.set_minor_locator(MultipleLocator(0.125))
    ax.grid(which="major", color=GRID_MAJ, lw=0.6)
    ax.grid(which="minor", color=GRID_MIN, lw=0.4)
    ax.set_axisbelow(True)
    ax.tick_params(which="minor", length=0)
    ax.tick_params(axis="y", length=2.5, width=0.6, labelsize=7, pad=1.5, color="#333333")
    for sp in ax.spines.values():
        sp.set_visible(boxed)
        sp.set_linewidth(0.8)
        sp.set_color("#333333")

    medians = []
    for (t, s, cens), col in ((high, C_HIGH), (low, C_LOW)):
        end = max(t[-1], max(cens))
        ax.step([0] + t + [end], [1.0] + s + [s[-1]], where="post", color=col, lw=1.1)
        pos = np.searchsorted(t, cens, side="right") - 1
        cy = [1.0 if i < 0 else s[i] for i in pos]
        ax.plot(cens, cy, ls="none", marker="+", ms=4, mew=0.7, color=col)
        below = [ti for ti, si in zip(t, s) if si <= 0.5]
        if below:
            medians.append(below[0])
    if medians:
        ax.plot([0, max(medians)], [0.5, 0.5], color="black", ls=(0, (3, 2)), lw=0.7)
        for m in medians:
            ax.plot([m, m], [0, 0.5], color="black", ls=(0, (3, 2)), lw=0.7)
    ax.text(0, p_y, p_text, fontsize=7, ha="left", va="center")
    ax.text(0, hr_y, hr_text, fontsize=6, ha="left", va="center")

    # legend
    ftext(190, y1 + 0.7, "Groups", fontsize=6.3, ha="left", va="center")
    fam = {} if leg_family is None else {"family": leg_family}
    for dy, col, name in ((14.8, C_HIGH, "High"), (26.9, C_LOW, "Low")):
        fline(191.7, 203.3, y1 + dy, color=col, lw=1.1)
        fmark(197.5, y1 + dy, marker="+", ms=4, mew=0.7, color=col)
        ftext(206.7, y1 + dy, name, fontsize=5, ha="left", va="center", **fam)

    # risk table
    tb = add_ax(35.8, tb_top, 223.5, tb_bot)
    tb.set_xlim(-1, 21)
    tb.set_ylim(0, 1)
    tb.set_xticks(KM_TICKS)
    tb.set_xticklabels(KM_TICKLABELS)
    tb.set_yticks([0.78, 0.28])
    tb.set_yticklabels(["High", "Low"])
    tb.tick_params(length=2.5, width=0.6, labelsize=6.5, pad=0.8, color="#333333")
    tb.tick_params(axis="y", labelsize=5.6, pad=1)
    for sp in tb.spines.values():
        sp.set_linewidth(0.8)
        sp.set_color("#333333")
    for k, (x, nh, nl) in enumerate(zip(KM_TICKS, n_high, n_low)):
        xx, ha = (x - 0.1, "left") if k == 0 else (x, "center")
        tb.text(xx, 0.78, str(nh), ha=ha, va="center", fontsize=5.8)
        tb.text(xx, 0.28, str(nl), ha=ha, va="center", fontsize=5.8)

    ftext(5, (tb_top + tb_bot) / 2, "Groups", rotation=90, fontsize=6.5, ha="center", va="center")
    ftext(130, tb_bot + 19.8, "Time", fontsize=7.3, ha="center", va="center")
    ftext(5, y1 + 48, "Survival probability", rotation=90, fontsize=8, ha="center", va="center")
    letter(lx, ly, lab)


def risk_panel(lab, lx, ly, up_top, up_bot, lo_top, lo_bot, score_low, score_high,
               times, status, up_lim, up_step, lo_lim, lo_ticks, lo_labels, lo_minor, legends=True):
    scores = score_low + score_high
    n = len(scores)
    idx = np.arange(1, n + 1)
    pad = 0.045 * n
    up = add_ax(264.3, up_top, 462.3, up_bot)
    lo = add_ax(264.3, lo_top, 462.3, lo_bot)
    cols = [BAR_LOW] * len(score_low) + [BAR_HIGH] * len(score_high)
    up.bar(idx, scores, width=1.0, color=cols, edgecolor=cols, linewidth=0.3)

    m = min(len(times), len(status), n)
    t_arr = np.array(times[:m])
    alive = np.array([c == "A" for c in status[:m]])
    xi = idx[:m]
    lo.scatter(xi[alive], t_arr[alive], s=5, marker="o", color=PT_ALIVE, linewidths=0, zorder=3)
    lo.scatter(xi[~alive], t_arr[~alive], s=6, marker="^", color=PT_DEAD, linewidths=0, zorder=3)

    for a in (up, lo):
        a.set_xlim(0.5 - pad, n + 0.5 + pad)
        a.xaxis.set_major_locator(MultipleLocator(50))
        a.xaxis.set_minor_locator(MultipleLocator(25))
        a.grid(which="major", color=GRID_MAJ, lw=0.6)
        a.grid(which="minor", color=GRID_MIN, lw=0.4)
        a.set_axisbelow(True)
        a.tick_params(which="minor", length=0)
        a.tick_params(which="major", length=2.5, width=0.6, color="#333333", labelsize=6.5,
                      pad=1.5, labelbottom=False)
        for sp in a.spines.values():
            sp.set_color("#333333")
            sp.set_linewidth(0.7)
    up.tick_params(axis="x", length=0)
    up.set_ylim(*up_lim)
    up.yaxis.set_major_locator(MultipleLocator(up_step))
    up.yaxis.set_minor_locator(MultipleLocator(up_step / 2))
    lo.set_ylim(*lo_lim)
    lo.yaxis.set_major_locator(FixedLocator(lo_ticks))
    lo.set_yticklabels(lo_labels)
    lo.yaxis.set_minor_locator(MultipleLocator(lo_minor))

    ftext(242.7, (up_top + up_bot) / 2, "RiskScore", rotation=90, fontsize=7.5, ha="center", va="center")
    ftext(242.7, (lo_top + lo_bot) / 2, "Time", rotation=90, fontsize=7.5, ha="center", va="center")

    # RiskType legend
    frect(439.3, up_bot - 22.5, 447.8, up_bot - 13.5, C_HIGH)
    frect(439.3, up_bot - 12.5, 447.8, up_bot - 3.0, C_LOW)
    if legends:
        ftext(446.5, up_bot - 29.5, "RiskType", fontsize=5.5, ha="center", va="center")
        ftext(448.5, up_bot - 18, "High", fontsize=4.2, ha="left", va="center")
        ftext(448.5, up_bot - 7.7, "Low", fontsize=4.2, ha="left", va="center")
        # Status legend
        ftext(450, lo_top + 8, "Status", fontsize=5.5, ha="center", va="center")
        fmark(443.3, lo_top + 18, marker="o", ms=2.2, mew=0, color=PT_ALIVE)
        fmark(443.3, lo_top + 28.5, marker="^", ms=2.4, mew=0, color=PT_DEAD)
        ftext(446.7, lo_top + 18, "Alive", fontsize=4.4, ha="left", va="center")
        ftext(446.7, lo_top + 28.5, "Dead", fontsize=4.4, ha="left", va="center")
    letter(lx, ly, lab)


def roc_panel(lab, lx, ly, x0, x1, y1, y0, curves, labels):
    ux, uy = x1 - x0, y0 - y1
    ax = add_ax(x0 - 0.05 * ux, y1 - 0.05 * uy, x1 + 0.05 * ux, y0 + 0.05 * uy)
    ax.set_xlim(-0.05, 1.05)
    ax.set_ylim(-0.05, 1.05)
    ax.set_xticks(ROC_TICKS)
    ax.set_xticklabels(ROC_TICKLABELS)
    ax.set_yticks(ROC_TICKS)
    ax.set_yticklabels(ROC_TICKLABELS)
    ax.xaxis.set_minor_locator(MultipleLocator(0.125))
    ax.yaxis.set_minor_locator(MultipleLocator(0.125))
    ax.grid(which="major", color=GRID_MAJ, lw=0.6)
    ax.grid(which="minor", color=GRID_MIN, lw=0.4)
    ax.set_axisbelow(True)
    ax.tick_params(which="minor", length=0)
    ax.tick_params(which="major", length=2, width=0.6, color="#333333", labelsize=6.6, pad=1.2)
    for sp in ax.spines.values():
        sp.set_color("#333333")
        sp.set_linewidth(0.7)
    for ys, col in zip(curves, ROC_COLS):
        ax.plot(roc_fpr, ys, color=col, lw=1.4, solid_capstyle="round")

    ftext(477.3, (y1 + y0) / 2, "True positive fraction", rotation=90, fontsize=10,
          ha="center", va="center")
    ftext((x0 + x1) / 2, y0 + 0.05 * uy + 18.5, "False positive fraction", fontsize=8,
          ha="center", va="center")
    ftext(583.3, y0 - 37.4, "Type", fontsize=6.3, ha="left", va="center")
    for dy, col, txt in zip((-25.0, -13.4, -1.5), ROC_COLS, labels):
        fline(585, 595, y0 + dy, color=col, lw=1.4)
        ftext(597, y0 + dy, txt, fontsize=4.6, ha="left", va="center")
    letter(lx, ly, lab)


# ---------------- row 1 ----------------
km_panel("A", 4, 5, 17.3, 151.7, 161, 180,
         (a_high_t, a_high_s, a_high_c), (a_low_t, a_low_s, a_low_c), a_n_high, a_n_low,
         "p < 0.0001", 0.186, "HR=2.26 95CI%(1.79-2.84)", 0.065)
risk_panel("B", 232, 5, 9.3, 90.7, 92.7, 180, b_score_low, b_score_high, b_time, b_status,
           (-2.648, 3.216), 1, (-0.67, 20.99), [0, 5, 10, 15, 20], ["0", "5", "10", "15", "20"], 2.5)
roc_panel("C", 477, 5, 520, 698.3, 17.3, 171, (c_tpr_1y, c_tpr_3y, c_tpr_5y), c_labels)

# ---------------- row 2 ----------------
km_panel("D", 4, 219, 231, 365.7, 376, 395,
         (d_high_t, d_high_s, d_high_c), (d_low_t, d_low_s, d_low_c), d_n_high, d_n_low,
         "p = 0.00066", 0.19, "HR=1.46 95CI%(1.2-1.78)", 0.0)
risk_panel("E", 232, 219, 225, 305.7, 307.7, 394, e_score_low, e_score_high, e_time, e_status,
           (-2.75, 3.46), 1, (-1.25, 20.4), [0, 5, 10, 15, 20], ["0", "5", "10", "15", "20"], 2.5)
roc_panel("F", 477, 219, 520, 698.3, 233.3, 386.7, (f_tpr_1y, f_tpr_3y, f_tpr_5y), f_labels)

# ---------------- row 3 ----------------
km_panel("G", 4, 432, 450.7, 585, 595, 613.3,
         (g_high_t, g_high_s, g_high_c), (g_low_t, g_low_s, g_low_c), g_n_high, g_n_low,
         "p < 0.0001", 0.253, "HR=1.73 95CI%(1.5-2)", 0.0, leg_family="Liberation Serif")
risk_panel("H", 233, 432, 443.3, 525, 526.7, 612.7, h_score_low, h_score_high, h_time, h_status,
           (-2.83, 3.52), 1, (-0.94, 20.84), [0, 5, 10, 15, 20], ["0", "5", "10", "15", "20"], 2.5)
roc_panel("I", 481, 432, 520, 699.3, 451, 605, (i_tpr_1y, i_tpr_3y, i_tpr_5y), i_labels)

# ---------------- row 4 ----------------
km_panel("J", 4, 653, 667.3, 802.3, 811.7, 830,
         (j_high_t, j_high_s, j_high_c), (j_low_t, j_low_s, j_low_c), j_n_high, j_n_low,
         "p = 0.0028", 0.195, "HR=1.74 95CI%(1.3-2.34)", 0.0, boxed=True)
risk_panel("K", 235, 653, 661.7, 742.3, 744, 830, k_score_low, k_score_high, k_time, k_status,
           (-2.475, 4.365), 2, (0.15, 11.19), [2.5, 5.0, 7.5, 10.0], ["2.5", "5.0", "7.5", "10.0"], 1.25,
           legends=False)
roc_panel("L", 482, 653, 520.7, 698.3, 670, 823.3, (l_tpr_1y, l_tpr_3y, l_tpr_5y), l_labels)

fig.savefig("out.png", dpi=100)
